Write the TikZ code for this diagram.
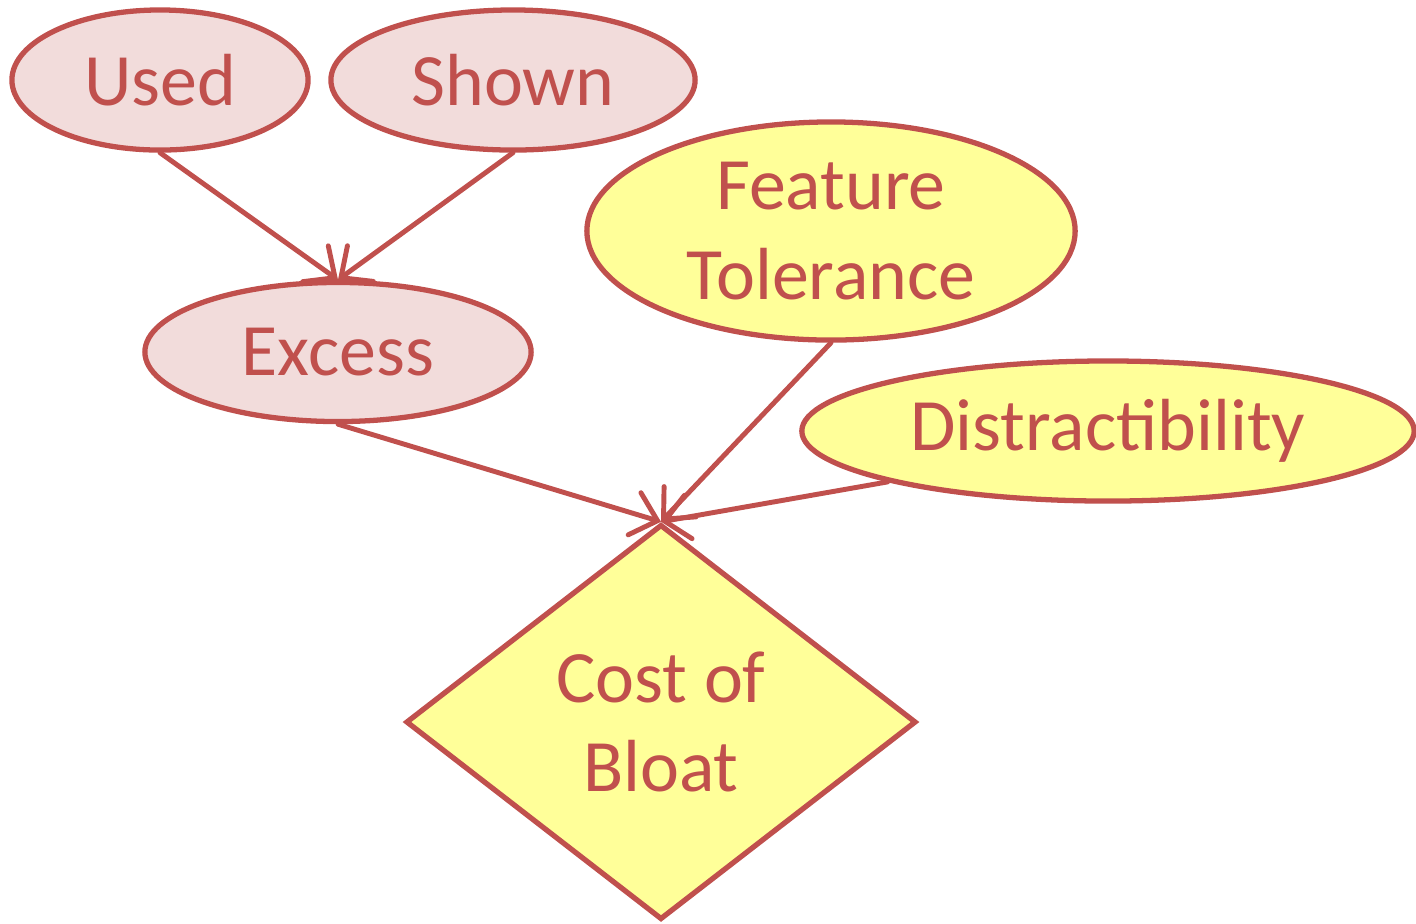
\documentclass[tikz,border=0pt]{standalone}
\usepackage{fontspec}
\setmainfont{Carlito}
\usetikzlibrary{arrows.meta,shapes.geometric}
\definecolor{edgered}{HTML}{C0504D}
\definecolor{pinkfill}{HTML}{F2DCDB}
\definecolor{yellowfill}{HTML}{FFFF99}
\tikzset{
  labelfont/.style={font=\fontsize{21}{25.5}\selectfont},
  oval/.style={ellipse, draw=edgered, line width=1.5pt, text=edgered,
    labelfont, inner sep=0pt, align=center},
  pinkoval/.style={oval, fill=pinkfill},
  yellowoval/.style={oval, fill=yellowfill},
  link/.style={draw=edgered, line width=1.4pt, line cap=round,
    -{Straight Barb[length=2.4mm,width=4.4mm,line cap=round]}},
}
\begin{document}
\begin{tikzpicture}[x=0.01cm,y=-0.01cm]
  \useasboundingbox (0,0) rectangle (1416,923);
  % ovals: centre in pixel units, axes in cm
  \node[pinkoval, minimum width=2.96cm, minimum height=1.40cm] (used) at (160,80) {Used};
  \node[pinkoval, minimum width=3.64cm, minimum height=1.40cm] (shown) at (513,80) {Shown};
  \node[pinkoval, minimum width=3.86cm, minimum height=1.39cm] (excess) at (338,352) {Excess};
  \node[yellowoval, minimum width=4.88cm, minimum height=2.18cm] (tol) at (831,231) {Feature\\Tolerance};
  \node[yellowoval, minimum width=6.12cm, minimum height=1.40cm] (dist) at (1108,431) {Distractibility};
  % decision diamond
  \node[diamond, draw=edgered, fill=yellowfill, line width=1.5pt, text=edgered,
    labelfont, align=center, inner sep=0pt,
    minimum width=5.10cm, minimum height=3.95cm] (cost) at (661,722) {Cost of\\Bloat};
  % connectors
  \draw[link] (used.south) -- (excess.north);
  \draw[link] (shown.south) -- (excess.north);
  \draw[link] (excess.south) -- (cost.north);
  \draw[link] (tol.south) -- (cost.north);
  \draw[link] (dist.193) -- (cost.north);
\end{tikzpicture}
\end{document}
